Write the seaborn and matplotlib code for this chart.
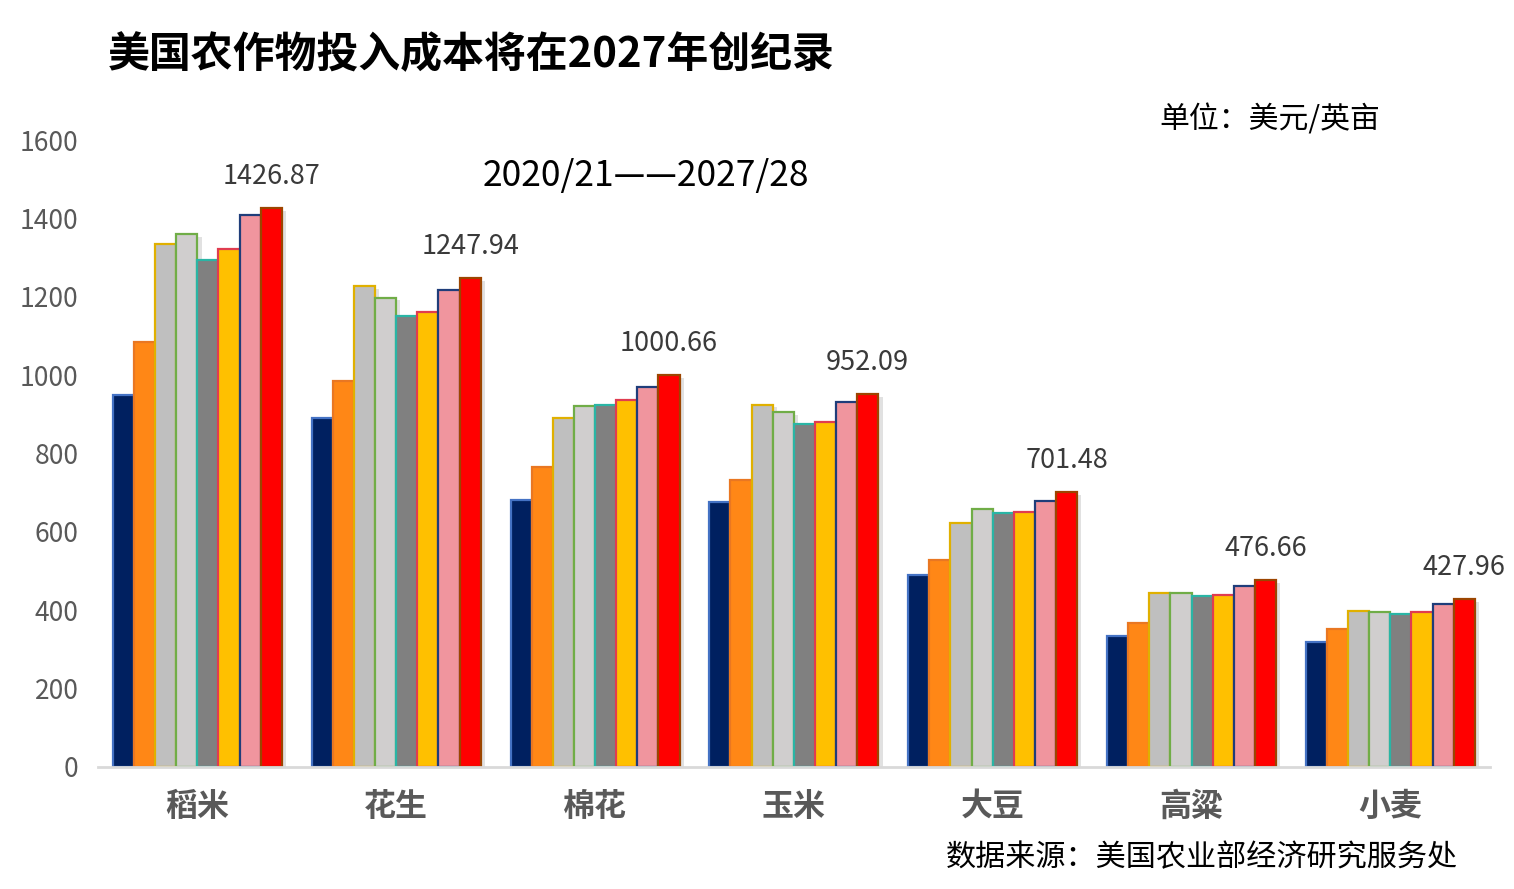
#!/usr/bin/env python3
"""US crop input costs by year, grouped bar chart."""

import pandas as pd
import matplotlib
matplotlib.use("Agg")
import matplotlib.pyplot as plt
import matplotlib.patheffects as pe
import seaborn as sns

# categories and years
crops = ["稻米", "花生", "棉花", "玉米", "大豆", "高粱", "小麦"]
years = ["2020/21", "2021/22", "2022/23", "2023/24",
         "2024/25", "2025/26", "2026/27", "2027/28"]

# values per crop (USD per acre), one list per year
v_2020 = [949, 891, 682, 675, 489, 334, 318]
v_2021 = [1085, 985, 765, 732, 529, 367, 351]
v_2022 = [1334, 1228, 891, 925, 623, 445, 399]
v_2023 = [1359, 1198, 922, 905, 659, 445, 395]
v_2024 = [1293, 1152, 925, 874, 647, 435, 390]
v_2025 = [1321, 1162, 936, 881, 651, 440, 395]
v_2026 = [1408, 1218, 970, 932, 679, 463, 417]
v_2027 = [1426.87, 1247.94, 1000.66, 952.09, 701.48, 476.66, 427.96]

fill_colors = ["#002060", "#FF8716", "#BFBFBF", "#D0CECE",
               "#808080", "#FFC000", "#F0959E", "#FF0000"]
edge_colors = ["#4472C4", "#E97722", "#E0B000", "#70AD47",
               "#2AB5A5", "#E03C50", "#1F3D7A", "#9C4500"]

series = [v_2020, v_2021, v_2022, v_2023, v_2024, v_2025, v_2026, v_2027]
rows = []
for year, vals in zip(years, series):
    for crop, v in zip(crops, vals):
        rows.append({"crop": crop, "year": year, "cost": v})
df = pd.DataFrame(rows)

sns.set_style("white")
plt.rcParams["font.family"] = ["Noto Sans CJK SC", "DejaVu Sans"]

fig = plt.figure(figsize=(15.14, 8.89), dpi=100)
ax = fig.add_axes([0.0647, 0.1373, 0.9193, 0.7052])

sns.barplot(data=df, x="crop", y="cost", hue="year", order=crops,
            hue_order=years, palette=fill_colors, width=0.85,
            saturation=1, legend=False, ax=ax)

shadow = [pe.SimplePatchShadow(offset=(3, -2), shadow_rgbFace="#888888", alpha=0.25),
          pe.Normal()]
for cont, ec in zip(ax.containers, edge_colors):
    for bar in cont:
        bar.set_edgecolor(ec)
        bar.set_linewidth(1.6)
        bar.set_path_effects(shadow)

# labels on the last year only
ax.bar_label(ax.containers[-1], labels=[f"{v:.2f}" for v in v_2027],
             padding=13, fontsize=19.5, color="#3A3A3A")

ax.set_xlim(-0.5, len(crops) - 0.5)
ax.set_ylim(0, 1600)
ax.set_yticks(range(0, 1601, 200))
ax.set_xlabel("")
ax.set_ylabel("")
ax.tick_params(axis="y", length=0, pad=14, labelsize=19, labelcolor="#595959")
ax.tick_params(axis="x", length=0, pad=17, labelsize=23, labelcolor="#595959")
for lab in ax.get_xticklabels():
    lab.set_fontweight("bold")

for side in ["left", "right", "top"]:
    ax.spines[side].set_visible(False)
ax.spines["bottom"].set_color("#D9D9D9")
ax.spines["bottom"].set_linewidth(2)

fig.text(108 / 1514, 1 - 55 / 889, "美国农作物投入成本将在2027年创纪录",
         fontsize=30.2, fontweight="bold", color="black", va="center", ha="left")
fig.text(1380 / 1514, 1 - 120 / 889, "单位：美元/英亩",
         fontsize=21.5, color="black", va="center", ha="right")
fig.text(646 / 1514, 1 - 176 / 889, "2020/21——2027/28",
         fontsize=25.5, color="black", va="center", ha="center")
fig.text(1458 / 1514, 1 - 858 / 889, "数据来源：美国农业部经济研究服务处",
         fontsize=21.7, color="black", va="center", ha="right")

fig.savefig("out.png", dpi=100)
